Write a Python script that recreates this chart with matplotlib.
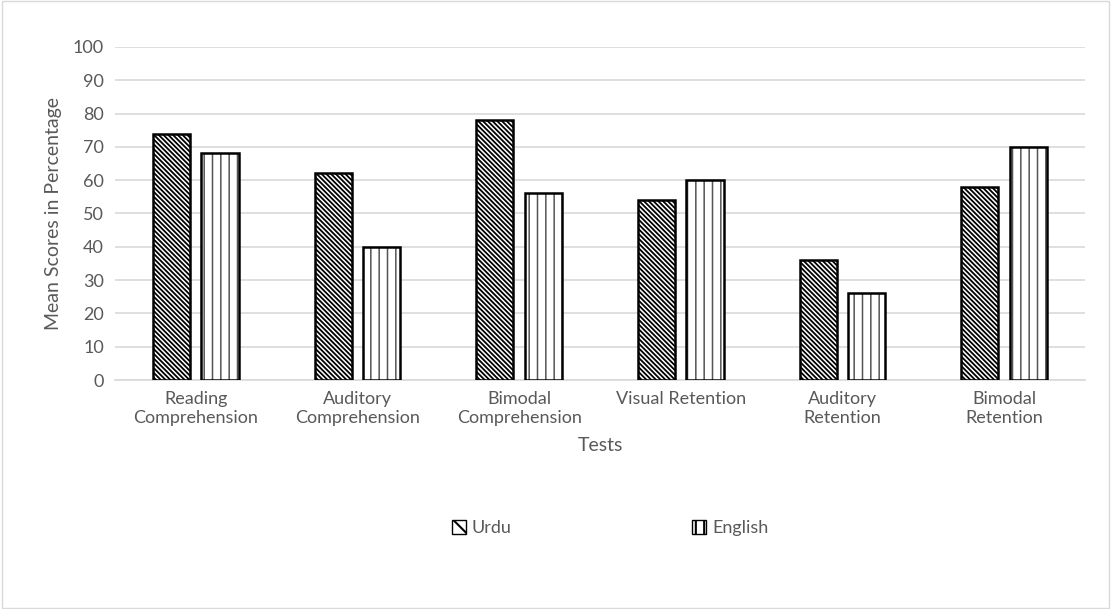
import numpy as np
import matplotlib
matplotlib.use('Agg')
import matplotlib.pyplot as plt
from matplotlib.patches import Rectangle, Patch

plt.rcParams['font.family'] = ['Lato', 'DejaVu Sans']

#data
tests = ['Reading\nComprehension', 'Auditory\nComprehension', 'Bimodal\nComprehension',
         'Visual Retention', 'Auditory\nRetention', 'Bimodal\nRetention']
urdu = [74, 62, 78, 54, 36, 58]
english = [68, 40, 56, 60, 26, 70]
yticks = list(range(0, 101, 10))

txt = '#595959'
fig = plt.figure(figsize=(11.11, 6.09), dpi=100)
ax = fig.add_axes([0.1035, 0.376, 0.873, 0.547])

x = np.arange(len(tests))
w = 0.23
off = 0.15

plt.rcParams['hatch.linewidth'] = 1.3
ax.bar(x - off, urdu, w, color='white', edgecolor='black', hatch='\\' * 7, linewidth=0, zorder=3)
plt.rcParams['hatch.linewidth'] = 1.1
ax.bar(x + off, english, w, color='white', edgecolor='#555555', hatch='||', linewidth=0, zorder=3)
ax.bar(x - off, urdu, w, fill=False, edgecolor='black', linewidth=1.8, zorder=4)
ax.bar(x + off, english, w, fill=False, edgecolor='black', linewidth=1.8, zorder=4)

ax.set_xlim(-0.5, len(tests) - 0.5)
ax.set_ylim(0, 100)
ax.set_yticks(yticks)
ax.grid(axis='y', color='#d9d9d9', linewidth=1.2, zorder=0)
for s in ['top', 'right', 'left']:
    ax.spines[s].set_visible(False)
ax.spines['bottom'].set_color('#d9d9d9')
ax.spines['bottom'].set_linewidth(1.2)
ax.tick_params(length=0, labelsize=13, colors=txt, pad=8)
ax.set_xticks(x)
ax.set_xticklabels(tests)
ax.set_xlabel('Tests', fontsize=14, color=txt, labelpad=8)
ax.set_ylabel('Mean Scores in Percentage', fontsize=14, color=txt, labelpad=8)

plt.rcParams['hatch.linewidth'] = 3.0
h_urdu = Patch(facecolor='white', edgecolor='black', hatch='\\\\')
plt.rcParams['hatch.linewidth'] = 1.5
h_eng = Patch(facecolor='white', edgecolor='black', hatch='||')
fig.legend([h_urdu, h_eng], ['Urdu', 'English'], loc='center', bbox_to_anchor=(0.549, 0.133), ncol=2,
           frameon=False, fontsize=13, labelcolor=txt, columnspacing=10,
           handlelength=0.8, handleheight=0.8, handletextpad=0.3)

fig.patches.append(Rectangle((0.002, 0.002), 0.996, 0.996, transform=fig.transFigure,
                             fill=False, edgecolor='#d9d9d9', linewidth=1))

fig.savefig('out.png', dpi=100)
